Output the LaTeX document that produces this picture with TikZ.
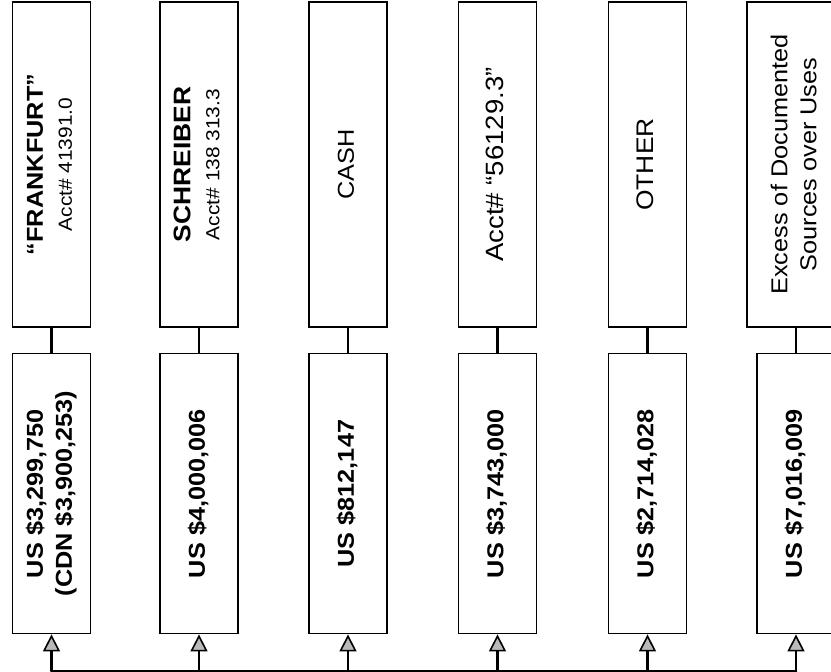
\documentclass[tikz,border=0pt]{standalone}
\usepackage{fontspec}
\setmainfont{Liberation Sans}[FakeStretch=1.1]
\usepackage{graphicx}
\usetikzlibrary{arrows.meta, positioning}
\newcommand{\vlabel}[2]{\rotatebox{90}{\fontsize{#1}{29}\selectfont\begin{tabular}{@{}c@{}}#2\end{tabular}}}

\begin{document}
\begin{tikzpicture}[x=1pt, y=-1pt,
  upbox/.style={rectangle, draw, line width=1.6pt, minimum width=78pt,
    minimum height=325pt, inner sep=0pt},
  lowbox/.style={rectangle, draw, line width=1.6pt, minimum width=78pt,
    minimum height=280pt, inner sep=0pt},
  link/.style={line width=2.4pt},
  arr/.style={-{Triangle[length=17pt, width=17pt, line width=1.6pt, fill=gray!55]}, line width=2.4pt}]
\useasboundingbox (0,0) rectangle (831,672);
% source accounts
\node[upbox] (u1) at (51.5,164.5) {\vlabel{23}{\bfseries “FRANKFURT”\\ \fontsize{19}{29}\selectfont Acct\# 41391.0}};
\node[upbox] (u2) at (199,164.5) {\vlabel{24}{\bfseries SCHREIBER\\ \fontsize{19}{29}\selectfont Acct\# 138 313.3}};
\node[upbox] (u3) at (348,164.5) {\vlabel{23}{CASH}};
\node[upbox] (u4) at (497.5,164.5) {\vlabel{25}{Acct\# “56129.3”}};
\node[upbox] (u5) at (647.5,164.5) {\vlabel{24}{OTHER}};
\node[upbox, minimum width=98pt] (u6) at (796,164.5) {\vlabel{23}{Excess of Documented\\ Sources over Uses}};
% amounts
\node[lowbox, below=25pt of u1] (l1) {\vlabel{23}{\bfseries US \$3,299,750\\ \bfseries (CDN \$3,900,253)}};
\node[lowbox, below=25pt of u2] (l2) {\vlabel{23}{\bfseries US \$4,000,006}};
\node[lowbox, below=25pt of u3] (l3) {\vlabel{23}{\bfseries US \$812,147}};
\node[lowbox, below=25pt of u4] (l4) {\vlabel{23}{\bfseries US \$3,743,000}};
\node[lowbox, below=25pt of u5] (l5) {\vlabel{23}{\bfseries US \$2,714,028}};
\node[lowbox, below=25pt of u6] (l6) {\vlabel{23}{\bfseries US \$7,016,009}};
\draw[link] (u1) -- (l1);
\draw[link] (u2) -- (l2);
\draw[link] (u3) -- (l3);
\draw[link] (u4) -- (l4);
\draw[link] (u5) -- (l5);
\draw[link] (u6) -- (l6);
% feed line
\coordinate (j1) at ([yshift=-37pt]l1.south);
\coordinate (j2) at ([yshift=-37pt]l2.south);
\coordinate (j3) at ([yshift=-37pt]l3.south);
\coordinate (j4) at ([yshift=-37pt]l4.south);
\coordinate (j5) at ([yshift=-37pt]l5.south);
\coordinate (j6) at ([yshift=-37pt]l6.south);
\draw[link, line cap=round] (j1) -- (j6);
\draw[arr] (j1) -- (l1);
\draw[arr] (j2) -- (l2);
\draw[arr] (j3) -- (l3);
\draw[arr] (j4) -- (l4);
\draw[arr] (j5) -- (l5);
\draw[arr] (j6) -- (l6);
\end{tikzpicture}
\end{document}
